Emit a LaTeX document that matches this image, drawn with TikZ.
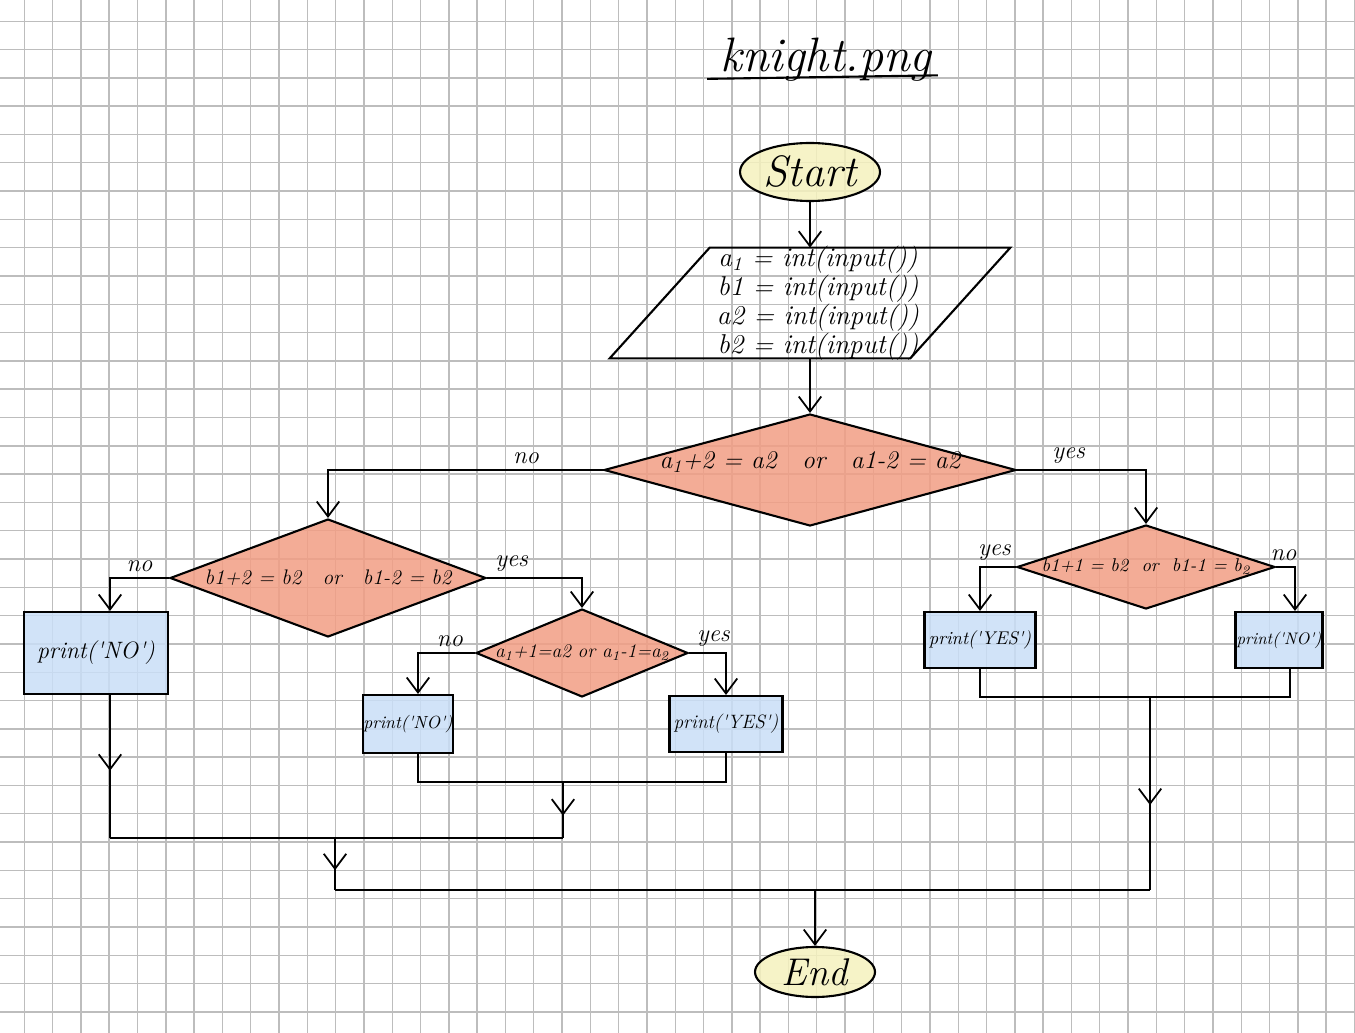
\documentclass[tikz,border=0pt]{standalone}
\usetikzlibrary{arrows.meta, positioning, shapes.geometric, calc, decorations.markings}

\definecolor{padgrid}{HTML}{BDBDBD}
\definecolor{termfill}{HTML}{F5F1BE}
\definecolor{decfill}{HTML}{F29E84}
\definecolor{outfill}{HTML}{C9DFF7}

\newcommand{\quoted}[1]{\textquotesingle#1\textquotesingle}

\begin{document}
\begin{tikzpicture}[
    x=0.02cm, y=-0.02cm,
    gridline/.style={draw=padgrid, line width=0.8pt},
    terminal/.style={ellipse, draw, line width=1.2pt, fill=termfill, fill opacity=0.85, text opacity=1, inner sep=0pt},
    io/.style={rectangle, inner sep=0pt},
    decision/.style={diamond, draw, line width=1.2pt, fill=decfill, fill opacity=0.85, text opacity=1, inner sep=0pt},
    block/.style={rectangle, draw, line width=1.2pt, fill=outfill, fill opacity=0.85, text opacity=1, inner sep=0pt},
    arrow/.style={-{Straight Barb[length=3mm, width=4.5mm]}, line width=1pt},
    midarrow/.style={line width=1pt, decoration={markings, mark=at position #1 with {\arrow{Straight Barb[length=3mm, width=4.5mm]}}}, postaction={decorate}},
    lbl/.style={font=\itshape\fontsize{14}{14}\selectfont, inner sep=3pt},
    hand/.style={font=\itshape\fontsize{#1}{#1}\selectfont}
  ]
    % Paper
    \fill[white] (0,0) rectangle (1355,1033);
    \useasboundingbox (0,0) rectangle (1355,1033);
    \foreach \i in {0,...,47}
      \draw[gridline] ({24.3+28.3*\i},0) -- ({24.3+28.3*\i},1033);
    \foreach \j in {0,...,36}
      \draw[gridline] (0,{21.3+28.3*\j}) -- (1355,{21.3+28.3*\j});

    % Title
    \node[hand=27.5] (title) at (826,60) {knight.png};
    \draw[line width=1.2pt] ([xshift=-4pt, yshift=-4pt]title.base west) -- ([yshift=-2pt]title.base east);

    % Start and input
    \node[terminal, hand=25, minimum width=2.8cm, minimum height=1.16cm] (start) at (810,172) {Start};
    \node[io, minimum width=6cm, minimum height=2.2cm] (input) at (810,303) {};
    \draw[line width=1.2pt] ([xshift=1cm]input.north west) -- ([xshift=1cm]input.north east)
      -- ([xshift=-1cm]input.south east) -- ([xshift=-1cm]input.south west) -- cycle;
    \node[align=center, font={\itshape\fontsize{15.5}{16.5}\selectfont}] (inputtext) at (818,303)
      {a\textsubscript{1} = int(input())\\b1 = int(input())\\a2 = int(input())\\b2 = int(input())};

    % Conditions
    \node[decision, minimum width=8.24cm, minimum height=2.24cm,
      label={[hand=14.5, yshift=0.16cm]center:a\textsubscript{1}+2 = a2\quad or\quad a1-2 = a2}] (cond1) at (810,470) {};
    \node[decision, minimum width=6.32cm, minimum height=2.36cm,
      label={[hand=12]center:b1+2 = b2\quad or\quad b1-2 = b2}] (cond2) at (328,578) {};
    \node[decision, minimum width=5.16cm, minimum height=1.68cm,
      label={[hand=10.5]center:b1+1 = b2 \ or \ b1-1 = b\textsubscript{2}}] (cond3) at (1146,567) {};
    \node[decision, minimum width=4.24cm, minimum height=1.76cm,
      label={[hand=11]center:a\textsubscript{1}+1=a2 or a\textsubscript{1}-1=a\textsubscript{2}}] (cond4) at (582,653) {};

    % Outputs
    \node[block, hand=13.5, minimum width=2.88cm, minimum height=1.64cm] (outno1) at (96,653) {print(\quoted{NO})};
    \node[block, hand=10, minimum width=1.76cm, minimum height=1.16cm] (outno2) at (408,724) {print(\quoted{NO})};
    \node[block, hand=11, minimum width=2.26cm, minimum height=1.12cm] (outyes2) at (726,724) {print(\quoted{YES})};
    \node[block, hand=10.5, minimum width=2.22cm, minimum height=1.12cm] (outyes3) at (980,640) {print(\quoted{YES})};
    \node[block, hand=9.5, minimum width=1.74cm, minimum height=1.12cm] (outno3) at (1279,640) {print(\quoted{NO})};

    % End
    \node[terminal, hand=22, minimum width=2.4cm, minimum height=1cm] (finish) at (815,972) {End};

    % Junctions
    \coordinate (jmid) at (563,782);
    \coordinate (jleft) at (563,838);
    \coordinate (jfar) at (110,838);
    \coordinate (jlow) at (335,838);
    \coordinate (jbot) at (335,890);
    \coordinate (jright) at (1150,697);
    \coordinate (jcorner) at (1150,890);

    % Arrows
    \draw[arrow] (start) -- (input);
    \draw[arrow] (input) -- (cond1);
    \draw[arrow] (cond1.west) -| node[lbl, pos=.14, above] {no} (cond2.north);
    \draw[arrow] (cond1.east) -| node[lbl, pos=.2, above] {yes} (cond3.north);
    \draw[arrow] (cond2.west) -| node[lbl, pos=.25, above] {no} ([xshift=.28cm]outno1.north);
    \draw[arrow] (cond2.east) -| node[lbl, pos=.13, above] {yes} (cond4.north);
    \draw[arrow] (cond4.west) -| node[lbl, pos=.22, above] {no} ([xshift=.2cm]outno2.north);
    \draw[arrow] (cond4.east) -| node[lbl, pos=.33, above] {yes} (outyes2.north);
    \draw[arrow] (cond3.west) -| node[lbl, pos=.3, above] {yes} (outyes3.north);
    \draw[arrow] (cond3.east) -| node[lbl, pos=.2, above] {no} ([xshift=.32cm]outno3.north);

    % Merging back
    \draw[line width=1pt] ([xshift=.2cm]outno2.south) |- (jmid) -| (outyes2.south);
    \draw[midarrow=.6] (jmid) -- (jleft);
    \draw[midarrow=.53] ([xshift=.28cm]outno1.south) -- (jfar);
    \draw[line width=1pt] (jfar) -- (jleft);
    \draw[midarrow=.62] (jlow) -- (jbot);
    \draw[line width=1pt] (outyes3.south) |- (jright) -| ([xshift=.22cm]outno3.south);
    \draw[midarrow=.56] (jright) -- (jcorner);
    \draw[line width=1pt] (jbot) -- (jcorner);
    \draw[arrow] (finish.north |- jbot) -- (finish.north);
  \end{tikzpicture}
\end{document}
